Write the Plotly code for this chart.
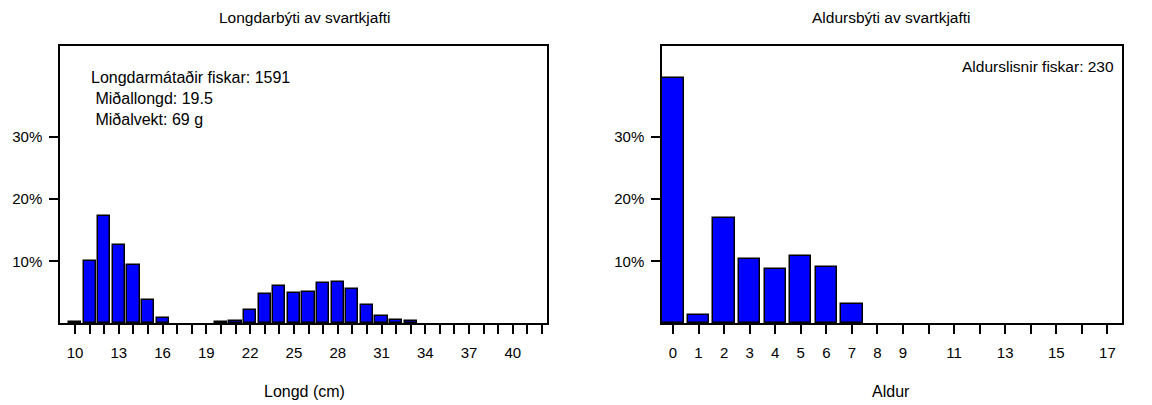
import plotly.graph_objects as go

# ---- data ----
length_cm = list(range(10, 43))
length_pct = [0.2, 10.0, 17.3, 12.6, 9.35, 3.7, 0.8, 0, 0, 0,
              0.15, 0.35, 2.1, 4.7, 5.95, 4.95, 5.1, 6.5, 6.7, 5.5,
              2.95, 1.2, 0.5, 0.35, 0, 0, 0, 0, 0, 0, 0, 0, 0]
length_ticklabels = [str(v) if (v - 10) % 3 == 0 else "" for v in length_cm]

age = list(range(0, 18))
age_pct = [39.57, 1.30, 16.96, 10.43, 8.70, 10.87, 9.13, 3.04,
           0, 0, 0, 0, 0, 0, 0, 0, 0, 0]
age_ticklabels = ["0", "1", "2", "3", "4", "5", "6", "7", "8", "9",
                  "", "11", "", "13", "", "15", "", "17"]

y_ticks = [10, 20, 30]
y_ticklabels = ["10%", "20%", "30%"]

left_title = "Longdarbýti av svartkjafti"
right_title = "Aldursbýti av svartkjafti"
left_xlabel = "Longd (cm)"
right_xlabel = "Aldur"
left_info = "Longdarmátaðir fiskar: 1591<br> Miðallongd: 19.5<br> Miðalvekt: 69 g"
right_info = "Aldurslisnir fiskar: 230"

# ---- figure ----
W, H = 1152, 405
FONT = "Liberation Sans, Arial, sans-serif"


def bar_trace(x, y, xa, ya):
    return go.Bar(
        x=x, y=y, xaxis=xa, yaxis=ya, width=0.835, showlegend=False,
        hoverinfo="x+y",
        marker=dict(color="#0000FF",
                    line=dict(color="black", width=[1.5 if v > 0 else 0 for v in y])),
    )


fig = go.Figure()
fig.add_trace(bar_trace(length_cm, length_pct, "x", "y"))
fig.add_trace(bar_trace(age, age_pct, "x2", "y2"))

ybot = (H - 323.3) / H
ytop = (H - 46) / H

axis_common = dict(showline=True, linecolor="black", linewidth=1.5, mirror=True,
                   ticks="outside", ticklen=9, tickwidth=1.5, tickcolor="black",
                   showgrid=False, zeroline=False,
                   tickfont=dict(family=FONT, size=15, color="black"))

fig.update_layout(
    width=W, height=H,
    margin=dict(l=0, r=0, t=0, b=0),
    paper_bgcolor="white", plot_bgcolor="white",
    font=dict(family=FONT, size=15, color="black"),
    bargap=0,
    xaxis=dict(domain=[60 / W, 546.7 / W], range=[8.97, 42.32],
               tickvals=length_cm, ticktext=length_ticklabels,
               ticklabelstandoff=6, anchor="y", **axis_common),
    yaxis=dict(domain=[ybot, ytop], range=[0, 44.7],
               tickvals=y_ticks, ticktext=y_ticklabels,
               ticklabelstandoff=4, anchor="x", **axis_common),
    xaxis2=dict(domain=[662 / W, 1121.7 / W], range=[-0.43, 17.56],
                tickvals=age, ticktext=age_ticklabels,
                ticklabelstandoff=6, anchor="y2", **axis_common),
    yaxis2=dict(domain=[ybot, ytop], range=[0, 44.7],
                tickvals=y_ticks, ticktext=y_ticklabels,
                ticklabelstandoff=4, anchor="x2", **axis_common),
)


def ann(text, x, y, size=15, xanchor="center", yanchor="middle", align="center"):
    fig.add_annotation(text=text, x=x / W, y=1 - y / H, xref="paper", yref="paper",
                       showarrow=False, xanchor=xanchor, yanchor=yanchor, align=align,
                       font=dict(family=FONT, size=size, color="black"))


ann(left_title, 304, 18, size=15.5)
ann(right_title, 891, 18, size=15.5)
ann(left_xlabel, 304, 391, size=16)
ann(right_xlabel, 891, 391, size=16)
ann(left_info, 89, 98, size=16, xanchor="left", align="left")
ann(right_info, 1116, 66, size=15.5, xanchor="right", align="right")

fig.write_html("out.html",
               config={"displayModeBar": False},
               post_script="document.body.style.margin='0';document.body.style.overflow='hidden';")
